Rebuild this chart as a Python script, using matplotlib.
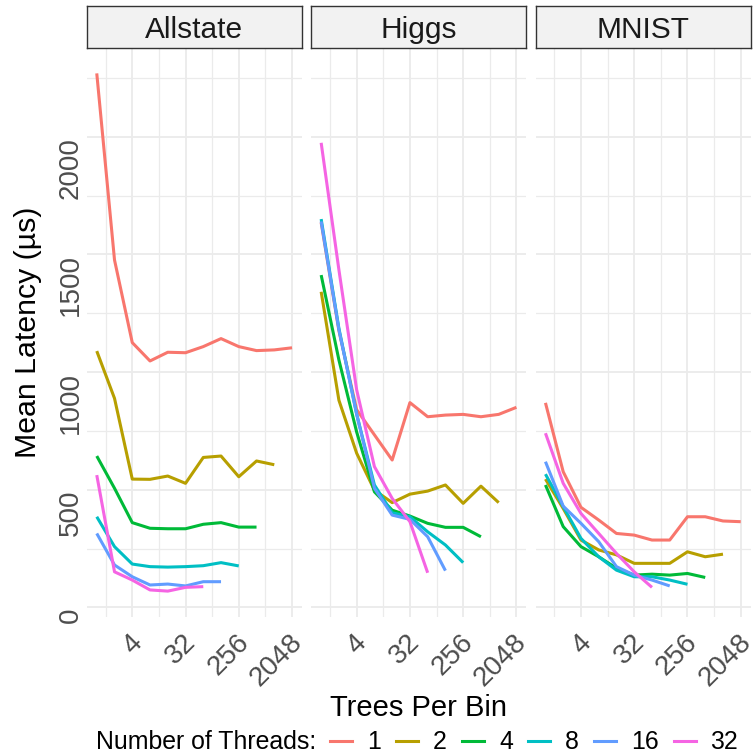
import numpy as np
import matplotlib
matplotlib.use("Agg")
import matplotlib.pyplot as plt
import matplotlib.transforms as mtransforms
from matplotlib.lines import Line2D
from matplotlib.ticker import NullFormatter

plt.rcParams['font.family'] = ['Liberation Sans', 'DejaVu Sans']

# Trees per bin on the x axis (log2 scale)
trees_per_bin = [1, 2, 4, 8, 16, 32, 64, 128, 256, 512, 1024, 2048]
datasets = ['Allstate', 'Higgs', 'MNIST']
threads = [1, 2, 4, 8, 16, 32]
colors = ['#F8766D', '#B79F00', '#00BA38', '#00BFC4', '#619CFF', '#F564E3']

# mean latency (us), one list per thread count; larger thread counts stop earlier
allstate_latency = [
    [2269, 1476, 1125, 1047, 1084, 1082, 1108, 1142, 1108, 1091, 1094, 1103],
    [1089, 888, 545, 544, 558, 527, 637, 643, 555, 622, 606],
    [643, 506, 360, 336, 334, 334, 353, 360, 341, 341],
    [385, 258, 184, 173, 171, 173, 177, 190, 176],
    [314, 180, 130, 95, 99, 91, 109, 109],
    [562, 151, 116, 74, 69, 85, 88],
]
higgs_latency = [
    [1635, 1175, 840, 733, 626, 870, 810, 817, 820, 810, 820, 850],
    [1341, 880, 655, 498, 445, 481, 494, 520, 442, 515, 445],
    [1412, 1051, 745, 491, 413, 388, 357, 340, 340, 300],
    [1650, 1185, 821, 520, 402, 385, 321, 265, 190],
    [1640, 1180, 821, 506, 392, 374, 300, 156],
    [1974, 1434, 924, 598, 463, 364, 147],
]
mnist_latency = [
    [869, 576, 425, 371, 314, 307, 286, 286, 385, 385, 367, 364],
    [545, 420, 286, 244, 223, 187, 187, 187, 236, 215, 226],
    [520, 343, 258, 215, 166, 137, 141, 137, 144, 127],
    [566, 428, 293, 215, 158, 130, 130, 116, 98],
    [619, 430, 357, 279, 173, 137, 116, 91],
    [740, 527, 399, 314, 229, 151, 85],
]
latency = [allstate_latency, higgs_latency, mnist_latency]

x_major = [4, 32, 256, 2048]
x_minor = [2 ** 0.5, 2 ** 3.5, 2 ** 6.5, 2 ** 9.5]
y_major = [0, 500, 1000, 1500, 2000]
y_minor = [250, 750, 1250, 1750, 2250]

W = H = 755
fig = plt.figure(figsize=(W / 100, H / 100), dpi=100)


def box(left, top, width, height):
    # pixel box -> figure fraction rect
    return [left / W, 1 - (top + height) / H, width / W, height / H]


# shared limits with 5% expansion like ggplot
all_vals = [v for ds in latency for s in ds for v in s]
lo, hi = min(all_vals), max(all_vals)
ypad = 0.05 * (hi - lo)
ylim = (lo - ypad, hi + ypad)
lx0, lx1 = np.log2(trees_per_bin[0]), np.log2(trees_per_bin[-1])
xpad = 0.05 * (lx1 - lx0)
xlim = (2 ** (lx0 - xpad), 2 ** (lx1 + xpad))

panel_left = [87.0, 311.4, 535.7]
panel_w = 214.8
panel_top, panel_bottom = 47.5, 617.0
strip_top = 6.0

grid_col = '#EBEBEB'
tick_col = '#4D4D4D'
nudge_left = mtransforms.ScaledTranslation(-3 / 100, 0, fig.dpi_scale_trans)

for i, name in enumerate(datasets):
    ax = fig.add_axes(box(panel_left[i], panel_top, panel_w, panel_bottom - panel_top))
    ax.set_xscale('log', base=2)
    for series, col in zip(latency[i], colors):
        ax.plot(trees_per_bin[:len(series)], series, color=col, lw=2.2,
                solid_joinstyle='round', solid_capstyle='butt', zorder=3)
    ax.set_xlim(*xlim)
    ax.set_ylim(*ylim)

    ax.set_xticks(x_major)
    ax.set_xticklabels([str(v) for v in x_major])
    ax.set_xticks(x_minor, minor=True)
    ax.xaxis.set_minor_formatter(NullFormatter())
    ax.set_yticks(y_major)
    ax.set_yticks(y_minor, minor=True)
    ax.yaxis.set_minor_formatter(NullFormatter())

    ax.grid(True, which='major', color=grid_col, lw=1.3, zorder=0)
    ax.grid(True, which='minor', color=grid_col, lw=0.9, zorder=0)
    ax.set_axisbelow(True)
    for sp in ax.spines.values():
        sp.set_visible(False)
    ax.tick_params(which='both', length=0)
    ax.tick_params(axis='x', pad=9, labelsize=20, labelcolor=tick_col)
    for lab in ax.get_xticklabels():
        lab.set_rotation(45)
        lab.set_ha('right')
        lab.set_va('top')
        lab.set_rotation_mode('anchor')
        lab.set_transform(lab.get_transform() + nudge_left)

    if i == 0:
        ax.tick_params(axis='y', pad=6.5, labelsize=20, labelcolor=tick_col)
        for lab in ax.get_yticklabels():
            lab.set_rotation(90)
            lab.set_ha('right')
            lab.set_va('baseline')
            lab.set_rotation_mode('anchor')
    else:
        ax.set_yticklabels([])

    # facet strip
    sax = fig.add_axes(box(panel_left[i], strip_top, panel_w, panel_top - strip_top))
    sax.set_facecolor('#F2F2F2')
    sax.set_xticks([])
    sax.set_yticks([])
    for sp in sax.spines.values():
        sp.set_color('#333333')
        sp.set_linewidth(1.0)
    sax.text(0.5, 0.5, name, ha='center', va='center_baseline', fontsize=21.5,
             color='#1A1A1A', transform=sax.transAxes)

# axis titles
fig.text(28.5 / W, 1 - 332 / H, 'Mean Latency (µs)', rotation=90, ha='center',
         va='center', fontsize=21.8, color='black')
fig.text(418.7 / W, 1 - 716 / H, 'Trees Per Bin', ha='center', va='baseline',
         fontsize=21, color='black')

# legend along the bottom
renderer = fig.canvas.get_renderer()
base_y = 1 - 749 / H
key_y = 1 - 741 / H
title = fig.text(96 / W, base_y, 'Number of Threads:', ha='left', va='baseline',
                 fontsize=17.9, color='black')
cursor = title.get_window_extent(renderer).x1 + 14
for th, col in zip(threads, colors):
    fig.add_artist(Line2D([cursor / W, (cursor + 22) / W], [key_y, key_y],
                          color=col, lw=2.2, transform=fig.transFigure))
    lab = fig.text((cursor + 22 + 15) / W, base_y, str(th), ha='left',
                   va='baseline', fontsize=17.9, color='black')
    cursor = lab.get_window_extent(renderer).x1 + 15

fig.savefig('out.png', dpi=100)
